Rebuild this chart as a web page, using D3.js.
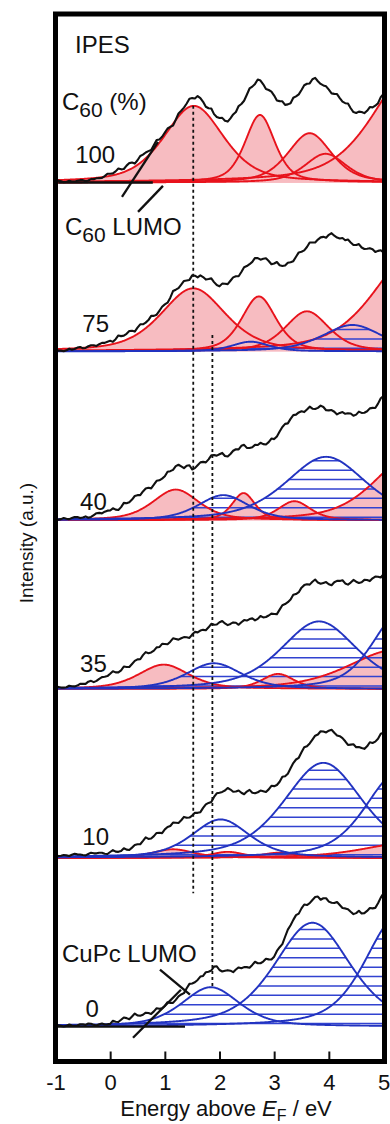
<!DOCTYPE html>
<html><head><meta charset="utf-8">
<script src="https://cdn.jsdelivr.net/npm/d3@7"></script>
<style>
body{margin:0;background:#fff}
svg{display:block}
text{font-family:"Liberation Sans",Arial,sans-serif;fill:#111}
</style>
</head><body>
<svg id="c" width="390" height="1124"></svg>
<script>
// ---------------- DATA ----------------
const energies = [-1.00,-0.95,-0.90,-0.85,-0.80,-0.75,-0.70,-0.65,-0.60,-0.55,-0.50,-0.45,-0.40,-0.35,-0.30,-0.25,-0.20,-0.15,-0.10,-0.05,
 0.00,0.05,0.10,0.15,0.20,0.25,0.30,0.35,0.40,0.45,0.50,0.55,0.60,0.65,0.70,0.75,0.80,0.85,0.90,0.95,
 1.00,1.05,1.10,1.15,1.20,1.25,1.30,1.35,1.40,1.45,1.50,1.55,1.60,1.65,1.70,1.75,1.80,1.85,1.90,1.95,
 2.00,2.05,2.10,2.15,2.20,2.25,2.30,2.35,2.40,2.45,2.50,2.55,2.60,2.65,2.70,2.75,2.80,2.85,2.90,2.95,
 3.00,3.05,3.10,3.15,3.20,3.25,3.30,3.35,3.40,3.45,3.50,3.55,3.60,3.65,3.70,3.75,3.80,3.85,3.90,3.95,
 4.00,4.05,4.10,4.15,4.20,4.25,4.30,4.35,4.40,4.45,4.50,4.55,4.60,4.65,4.70,4.75,4.80,4.85,4.90,4.95,
 5.00];
const concentrations = ["100","75","40","35","10","0"];

const spec100 = [.004,.011,.008,.002,.003,.010,.006,.005,.010,.014,.014,.007,.012,.020,.020,.025,.026,.027,.038,.052,
 .052,.054,.066,.083,.078,.080,.100,.115,.118,.112,.132,.157,.165,.178,.186,.193,.222,.252,.255,.271,
 .295,.320,.330,.337,.372,.409,.425,.444,.468,.496,.500,.498,.512,.500,.478,.449,.440,.438,.405,.388,
 .382,.383,.366,.361,.380,.403,.418,.453,.465,.484,.520,.557,.568,.584,.610,.604,.582,.554,.548,.538,
 .515,.486,.482,.481,.460,.463,.470,.502,.510,.522,.548,.576,.585,.587,.612,.620,.600,.584,.575,.570,
 .550,.528,.525,.524,.500,.479,.470,.468,.440,.417,.412,.420,.418,.411,.425,.447,.445,.455,.470,.506,
 .525];
const spec75 = [.000,.004,.004,.000,.006,.015,.010,.014,.022,.026,.018,.020,.030,.036,.036,.032,.042,.050,.050,.057,
 .062,.056,.072,.094,.090,.093,.104,.120,.122,.117,.140,.160,.160,.170,.185,.210,.210,.217,.240,.264,
 .278,.288,.318,.357,.365,.374,.395,.417,.420,.423,.450,.448,.438,.450,.440,.425,.428,.432,.410,.393,
 .385,.401,.400,.398,.418,.438,.445,.445,.470,.498,.505,.516,.530,.553,.552,.543,.548,.551,.535,.516,
 .520,.529,.510,.505,.508,.525,.528,.534,.560,.586,.590,.598,.618,.645,.645,.645,.662,.675,.678,.673,
 .690,.700,.685,.674,.668,.671,.658,.662,.645,.630,.630,.635,.615,.606,.608,.611,.605,.588,.595,.599,
 .585];
const spec40 = [.000,.002,.006,.013,.008,.006,.012,.018,.018,.012,.016,.022,.014,.019,.030,.041,.043,.040,.050,.056,
 .057,.070,.062,.060,.077,.102,.100,.106,.122,.143,.148,.148,.170,.187,.192,.188,.210,.233,.236,.246,
 .260,.287,.290,.298,.320,.328,.318,.308,.322,.325,.300,.308,.325,.342,.345,.342,.360,.384,.385,.382,
 .390,.398,.380,.377,.392,.411,.420,.419,.440,.446,.428,.427,.432,.446,.445,.458,.450,.448,.462,.483,
 .480,.496,.525,.552,.570,.573,.600,.622,.625,.638,.645,.640,.655,.672,.660,.658,.665,.678,.670,.651,
 .650,.652,.642,.626,.635,.640,.630,.633,.632,.618,.625,.643,.635,.636,.645,.662,.665,.664,.690,.722,
 .735];
const spec35 = [.006,.012,.008,.008,.010,.019,.016,.015,.020,.030,.030,.030,.043,.048,.040,.048,.060,.070,.072,.076,
 .090,.105,.098,.098,.110,.133,.130,.130,.148,.166,.175,.176,.200,.218,.212,.216,.227,.246,.248,.267,
 .266,.265,.280,.300,.296,.292,.300,.307,.306,.302,.322,.338,.335,.346,.350,.348,.365,.386,.380,.382,
 .395,.402,.388,.378,.385,.394,.392,.380,.395,.408,.405,.414,.418,.406,.415,.432,.424,.426,.435,.446,
 .444,.443,.470,.496,.503,.514,.530,.558,.562,.573,.600,.615,.620,.618,.635,.648,.630,.623,.628,.633,
 .620,.614,.632,.640,.640,.644,.625,.618,.630,.646,.635,.628,.632,.646,.645,.639,.655,.666,.665,.660,
 .680];
const spec10 = [.016,.010,.012,.016,.014,.010,.018,.023,.020,.019,.016,.014,.022,.030,.026,.026,.030,.030,.024,.022,
 .034,.045,.036,.035,.040,.056,.048,.046,.060,.075,.080,.080,.100,.121,.112,.114,.128,.147,.148,.146,
 .168,.182,.188,.208,.207,.206,.222,.242,.237,.238,.250,.266,.266,.270,.295,.316,.325,.330,.360,.382,
 .385,.390,.398,.413,.404,.391,.392,.398,.385,.376,.392,.402,.385,.382,.388,.398,.394,.390,.405,.426,
 .424,.431,.450,.480,.483,.498,.530,.561,.582,.592,.625,.654,.660,.677,.700,.723,.730,.749,.748,.742,
 .753,.758,.740,.724,.720,.709,.690,.668,.670,.672,.655,.656,.650,.645,.660,.684,.680,.688,.705,.734,
 .740];
const spec0 = [.000,.008,.004,.000,.004,.012,.006,.004,.006,.014,.014,.010,.018,.017,.010,.006,.014,.018,.012,.013,
 .016,.034,.028,.027,.040,.054,.050,.043,.060,.077,.066,.064,.070,.082,.080,.075,.090,.108,.105,.108,
 .122,.144,.140,.140,.158,.179,.190,.198,.227,.253,.255,.262,.276,.296,.300,.322,.325,.332,.355,.357,
 .335,.326,.330,.334,.331,.322,.338,.350,.345,.352,.352,.348,.365,.384,.375,.375,.385,.402,.398,.397,
 .414,.448,.470,.488,.532,.574,.600,.632,.660,.669,.700,.723,.720,.731,.750,.767,.770,.751,.760,.760,
 .740,.733,.732,.738,.720,.702,.700,.695,.680,.666,.672,.686,.670,.672,.685,.702,.700,.703,.730,.764,
 .790];

// fitted components: [centre (eV), amplitude, FWHM (eV)]
const red100 = [[1.53,0.454,1.3],[2.74,0.40,0.65],[3.65,0.292,0.95],[3.94,0.17,0.9],[5.6,0.70,1.8]];
const blue100 = [];
const red75 = [[1.52,0.373,1.4],[2.72,0.325,0.75],[3.6,0.237,0.95],[5.6,0.60,1.8]];
const blue75 = [[2.57,0.057,0.8],[4.43,0.156,1.3]];
const red40 = [[1.2,0.181,1.0],[2.44,0.16,0.5],[3.37,0.112,0.7],[5.5,0.38,1.6]];
const blue40 = [[2.07,0.148,1.1],[3.95,0.375,1.75]];
const red35 = [[0.98,0.144,1.1],[3.07,0.089,0.7],[5.2,0.23,2.0]];
const blue35 = [[1.9,0.152,1.2],[3.82,0.40,1.65],[5.3,0.45,1.2]];
const red10 = [[1.15,0.05,0.9],[2.15,0.035,0.7],[3.1,0.03,0.8],[5.5,0.09,2.0]];
const blue10 = [[2.02,0.227,1.25],[3.9,0.562,1.72],[5.25,0.5,1.4]];
const red0 = [];
const blue0 = [[1.84,0.233,1.25],[3.7,0.615,1.65],[5.25,0.65,1.4]];

const xTickValues = [-1,0,1,2,3,4,5];
const lumoC60 = 1.52, lumoCuPc = 1.87;
// annotation lines [E, intensity] pairs
const c60Base = [[-0.95,5.0],[0.78,5.0]];
const c60Tangent = [[0.216,4.915],[0.875,5.241]];
const c60Leader = [[0.51,4.826],[0.966,4.98]];
const cupcBase = [[-0.954,0.0],[1.369,0.0]];
const cupcTangent = [[0.418,-0.066],[1.295,0.218]];
const cupcLeader = [[0.911,0.337],[1.46,0.189]];

// ---------------- DRAWING ----------------
const svg = d3.select("#c");
const x = d3.scaleLinear().domain([-1,5]).range([55.5,383.5]);
const y = d3.scaleLinear().domain([-0.21,6]).range([1062,13.7]);
const F = {x0:55.5, x1:384.5, y0:14, y1:1061.5};

const panels = [
  {label:concentrations[0], offset:5, spec:spec100, red:red100, blue:blue100, lab:[-0.64,0.117]},
  {label:concentrations[1], offset:4, spec:spec75, red:red75, blue:blue75, lab:[-0.51,0.116]},
  {label:concentrations[2], offset:3, spec:spec40, red:red40, blue:blue40, lab:[-0.55,0.06]},
  {label:concentrations[3], offset:2, spec:spec35, red:red35, blue:blue35, lab:[-0.55,0.10]},
  {label:concentrations[4], offset:1, spec:spec10, red:red10, blue:blue10, lab:[-0.51,0.076]},
  {label:concentrations[5], offset:0, spec:spec0, red:red0, blue:blue0, lab:[-0.45,0.057]}
];

const defs = svg.append("defs");
defs.append("clipPath").attr("id","plotclip").append("rect")
  .attr("x",F.x0).attr("y",F.y0).attr("width",F.x1-F.x0).attr("height",F.y1-F.y0);
const g = svg.append("g").attr("clip-path","url(#plotclip)");

const eta = 0.5;
function pv(E, c){ const t=(E-c[0])/c[2]; const G=Math.exp(-4*Math.LN2*t*t); const L=1/(1+4*t*t); return c[1]*(eta*L+(1-eta)*G); }
const fine = d3.range(-1.05, 5.06, 0.01);

const RED="#e8131c", PINK="#f7bcc1", BLUE="#2233c0", HATCH="#3142d0";

panels.forEach((p,pi)=>{
  const b = p.offset;
  const area = c => d3.area().x(e=>x(e)).y0(y(b)).y1(e=>y(b+pv(e,c)))(fine);
  const line = c => d3.line().x(e=>x(e)).y(e=>y(b+pv(e,c)))(fine);
  p.red.forEach(c=> g.append("path").attr("d",area(c)).attr("fill",PINK));
  if(p.blue.length){
    const cp = defs.append("clipPath").attr("id","hatch"+pi);
    p.blue.forEach(c=> cp.append("path").attr("d",area(c)));
    const hg = g.append("g").attr("clip-path","url(#hatch"+pi+")");
    const top = y(b + d3.max(p.blue, c=>c[1]));
    for(let yy = y(b) - 3; yy > top - 10; yy -= 9.4){
      hg.append("line").attr("x1",F.x0).attr("x2",F.x1).attr("y1",yy).attr("y2",yy)
        .attr("stroke",HATCH).attr("stroke-width",1.5);
    }
  }
  p.red.forEach(c=> g.append("path").attr("d",line(c)).attr("fill","none").attr("stroke",RED).attr("stroke-width",1.9));
  p.blue.forEach(c=> g.append("path").attr("d",line(c)).attr("fill","none").attr("stroke",BLUE).attr("stroke-width",1.9));
});

// dotted LUMO lines
g.append("line").attr("x1",x(lumoC60)).attr("x2",x(lumoC60)).attr("y1",y(5.454)).attr("y2",y(0.79))
  .attr("stroke","#111").attr("stroke-width",1.8).attr("stroke-dasharray","3,3");
g.append("line").attr("x1",x(lumoCuPc)).attr("x2",x(lumoCuPc)).attr("y1",y(4.097)).attr("y2",y(0.235))
  .attr("stroke","#111").attr("stroke-width",1.8).attr("stroke-dasharray","3,3");

// black spectra
panels.forEach(p=>{
  g.append("path").datum(p.spec)
    .attr("d", d3.line().x((v,i)=>x(energies[i])).y(v=>y(p.offset+v)))
    .attr("fill","none").attr("stroke","#111").attr("stroke-width",2.1).attr("stroke-linejoin","round");
});

// annotation lines
const aline = d3.line().x(d=>x(d[0])).y(d=>y(d[1]));
[c60Base,c60Tangent,c60Leader,cupcBase,cupcTangent,cupcLeader].forEach(a=>{
  g.append("path").attr("d",aline(a)).attr("fill","none").attr("stroke","#111").attr("stroke-width",2.3);
});

// panel labels
panels.forEach(p=>{
  svg.append("text").attr("x",x(p.lab[0])).attr("y",y(p.offset+p.lab[1]))
    .attr("font-size",24).text(p.label);
});

// text annotations
svg.append("text").attr("x",x(-0.643)).attr("y",y(5.768)).attr("font-size",24).text("IPES");
function c60(E,I,rest){
  const t = svg.append("text").attr("x",x(E)).attr("y",y(I)).attr("font-size",24);
  t.append("tspan").text("C");
  t.append("tspan").attr("dy",7).attr("font-size",21).text("60");
  t.append("tspan").attr("dy",-7).text(rest);
}
c60(-0.881,5.43," (%)");
c60(-0.826,4.69," LUMO");
svg.append("text").attr("x",x(-0.881)).attr("y",y(0.383)).attr("font-size",24).text("CuPc LUMO");

// x axis
const axG = svg.append("g").attr("transform","translate(0,"+F.y1+")");
axG.call(d3.axisBottom(x).tickValues(x.ticks(30).filter(v=>Math.abs(v-Math.round(v))>1e-6)).tickSize(-5).tickFormat(""));
axG.call(d3.axisBottom(x).tickValues(xTickValues).tickSizeInner(-10).tickSizeOuter(0).tickPadding(13).tickFormat(d=>String(d)));
axG.selectAll(".domain").remove();
axG.selectAll("line").attr("stroke","#111").attr("stroke-width",2);
axG.selectAll("text").attr("font-size",22).attr("font-family","Liberation Sans, Arial, sans-serif").attr("fill","#111");

// axis titles
const xt = svg.append("text").attr("x",226).attr("y",1116).attr("text-anchor","middle").attr("font-size",22);
xt.append("tspan").text("Energy above ");
xt.append("tspan").attr("font-style","italic").text("E");
xt.append("tspan").attr("dy",5).attr("font-size",16).text("F");
xt.append("tspan").attr("dy",-5).text(" / eV");

svg.append("text").attr("transform","translate(33,543) rotate(-90)").attr("text-anchor","middle")
  .attr("font-size",19).text("Intensity (a.u.)");

// frame
svg.append("rect").attr("x",F.x0).attr("y",F.y0).attr("width",F.x1-F.x0).attr("height",F.y1-F.y0)
  .attr("fill","none").attr("stroke","#000").attr("stroke-width",5);
</script>
</body></html>
